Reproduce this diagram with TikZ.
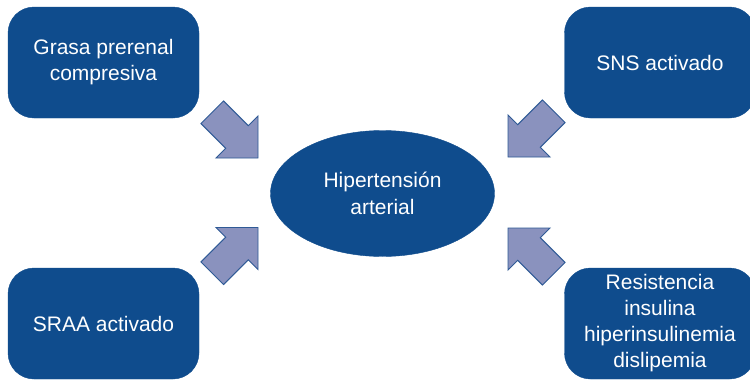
\documentclass[tikz,border=0pt]{standalone}
\usepackage{fontspec}
\setmainfont{Liberation Sans}
\usetikzlibrary{shapes.geometric}
\definecolor{boxblue}{HTML}{0F4C8D}
\definecolor{arrowfill}{HTML}{8A92BE}
\definecolor{arrowline}{HTML}{2F5A96}
\tikzset{
  factor/.style={rectangle, rounded corners=26pt, fill=boxblue, draw=boxblue,
    minimum width=191pt, minimum height=111pt, text=white, align=center,
    font=\fontsize{21}{26}\selectfont},
  hub/.style={ellipse, fill=boxblue, draw=boxblue, minimum width=224pt,
    minimum height=126pt, inner sep=0pt, text=white, align=center,
    font=\fontsize{21}{27}\selectfont},
  blockarrow/.style={fill=arrowfill, draw=arrowline, line width=0.9pt, line join=miter}
}
% block arrow: tip at the origin, pointing along the local x axis
\newcommand{\blockarrowshape}{%
  \draw[blockarrow] (0,0) -- (-29.7,29.7) -- (-29.7,16) -- (-64.7,16)
    -- (-64.7,-16) -- (-29.7,-16) -- (-29.7,-29.7) -- cycle;}
\begin{document}
\begin{tikzpicture}[x=1pt, y=-1pt]
\useasboundingbox (0,0) rectangle (750,380);
\fill[white] (0,0) rectangle (750,380);

\node[hub] (ht) at (382.5,193.5) {Hipertensión\\arterial};

\node[factor] (grasa) at (103.5,62.5) {Grasa prerenal\\compresiva};
\node[factor] (sns) at (660,62.5) {SNS activado};
\node[factor] (sraa) at (103.5,323.5) {SRAA activado};
\node[factor] (ri) at (660,323.5) {Resistencia\\insulina\\hiperinsulinemia\\dislipemia};

% arrows pointing at the central ellipse
\begin{scope}[shift={(258,158)}, x={(0.7071pt,-0.7071pt)}, y={(0.7071pt,0.7071pt)}]
  \blockarrowshape
\end{scope}
\begin{scope}[shift={(508,157)}, x={(-0.7071pt,-0.7071pt)}, y={(-0.7071pt,0.7071pt)}]
  \blockarrowshape
\end{scope}
\begin{scope}[shift={(258,227.5)}, x={(0.7071pt,0.7071pt)}, y={(-0.7071pt,0.7071pt)}]
  \blockarrowshape
\end{scope}
\begin{scope}[shift={(508,228)}, x={(-0.7071pt,0.7071pt)}, y={(0.7071pt,0.7071pt)}]
  \blockarrowshape
\end{scope}
\end{tikzpicture}
\end{document}
